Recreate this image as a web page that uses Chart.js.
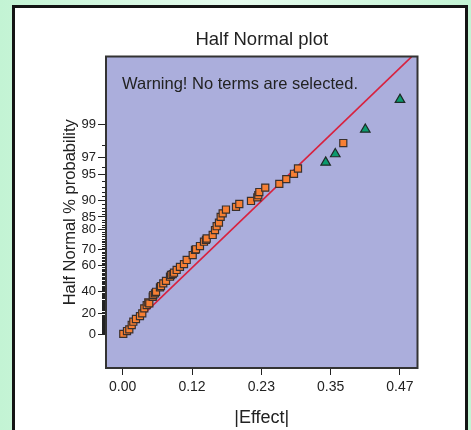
<!DOCTYPE html>
<html>
<head>
<meta charset="utf-8">
<script src="https://cdn.jsdelivr.net/npm/chart.js@4/dist/chart.umd.min.js"></script>
<style>
  html, body { margin: 0; padding: 0; }
  body {
    width: 471px; height: 430px; overflow: hidden; position: relative;
    background: linear-gradient(90deg, #c3f4d4 0%, #e6fbee 50%, #c3f4d4 100%);
  }
  .card {
    position: absolute; left: 12px; top: 5px; width: 450px; height: 440px;
    border: 3px solid #141414; background: #fff;
  }
  #plot { position: absolute; left: 0; top: 0; }
</style>
</head>
<body>
<div class="card"></div>
<canvas id="plot" width="471" height="430"></canvas>
<script>
// |Effect| and half-normal % probability
var termEffects = [0.0010, 0.0073, 0.0112, 0.0153, 0.0180, 0.0225, 0.0293, 0.0332, 0.0366, 0.0407,
  0.0434, 0.0451, 0.0509, 0.0519, 0.0548, 0.0565, 0.0632, 0.0649, 0.0688, 0.0734,
  0.0802, 0.0819, 0.0848, 0.0870, 0.0915, 0.0971, 0.1039, 0.1085, 0.1187, 0.1226,
  0.1243, 0.1310, 0.1378, 0.1412, 0.1424, 0.1526, 0.1565, 0.1593, 0.1632, 0.1661,
  0.1695, 0.1751, 0.1921, 0.1977, 0.2175, 0.2282, 0.2299, 0.2316, 0.2417, 0.2655,
  0.2773, 0.2904, 0.2972, 0.3740];
var termProbs = [0.4, 3.2, 4.9, 9.1, 12.3, 14.9, 17.7, 20.3, 25.0, 28.0,
  30.5, 29.6, 35.5, 37.0, 38.5, 39.8, 43.5, 44.6, 46.8, 48.8,
  52.0, 53.3, 54.0, 55.0, 57.0, 59.2, 61.1, 63.8, 66.9, 69.9,
  70.3, 72.1, 74.4, 75.3, 76.0, 77.7, 79.9, 81.5, 82.9, 85.0,
  86.2, 87.4, 88.2, 89.0, 89.8, 90.7, 91.2, 91.9, 92.8, 93.5,
  94.3, 95.1, 95.8, 98.1];

var errorEffects = [0.3441, 0.3604, 0.4113, 0.4701];
var errorProbs = [96.5, 97.3, 98.8, 99.6];

var lineEffects = [0, 0.49];
var lineProbs = [0, 99.934];

var yTickProbs = [0, 20, 40, 60, 70, 80, 85, 90, 95, 97, 99];
var xTickValues = [0, 0.1175, 0.235, 0.3525, 0.47];
var xTickLabels = ['0.00', '0.12', '0.23', '0.35', '0.47'];

// inverse normal cdf (Acklam)
function normInv(p) {
  var a = [-39.69683028665376, 220.9460984245205, -275.9285104469687, 138.3577518672690, -30.66479806614716, 2.506628277459239];
  var b = [-54.47609879822406, 161.5858368580409, -155.6989798598866, 66.80131188771972, -13.28068155288572];
  var c = [-0.007784894002430293, -0.3223964580411365, -2.400758277161838, -2.549732467179510, 4.374664141464968, 2.938163982698783];
  var d = [0.007784695709041462, 0.3224671290700398, 2.445134137142996, 3.754408661907416];
  var q, r;
  if (p < 0.02425) {
    q = Math.sqrt(-2 * Math.log(p));
    return (((((c[0]*q+c[1])*q+c[2])*q+c[3])*q+c[4])*q+c[5]) / ((((d[0]*q+d[1])*q+d[2])*q+d[3])*q+1);
  }
  if (p > 1 - 0.02425) {
    q = Math.sqrt(-2 * Math.log(1 - p));
    return -(((((c[0]*q+c[1])*q+c[2])*q+c[3])*q+c[4])*q+c[5]) / ((((d[0]*q+d[1])*q+d[2])*q+d[3])*q+1);
  }
  q = p - 0.5; r = q * q;
  return (((((a[0]*r+a[1])*r+a[2])*r+a[3])*r+a[4])*r+a[5])*q / (((((b[0]*r+b[1])*r+b[2])*r+b[3])*r+b[4])*r+1);
}
function toZ(pct) { return normInv(0.5 + pct / 200); }

function toPoints(xs, ps) {
  return xs.map(function(x, i) { return { x: x, y: toZ(ps[i]) }; });
}

var FONT = "'Liberation Sans', Arial, Helvetica, sans-serif";
var INK = '#222';
Chart.defaults.font.family = FONT;
Chart.defaults.color = INK;

var plotFrame = {
  id: 'plotFrame',
  beforeDatasetsDraw: function(chart) {
    var a = chart.chartArea, ctx = chart.ctx;
    ctx.save();
    ctx.fillStyle = '#abaedc';
    ctx.fillRect(a.left, a.top, a.right - a.left, a.bottom - a.top);
    ctx.restore();
  },
  afterDraw: function(chart) {
    var a = chart.chartArea, ctx = chart.ctx;
    var ys = chart.scales.y;
    ctx.save();
    // minor ticks at every whole percent
    ctx.strokeStyle = INK;
    ctx.lineWidth = 1;
    ctx.beginPath();
    for (var p = 1; p < 100; p++) {
      if (yTickProbs.indexOf(p) >= 0) continue;
      var py = Math.round(ys.getPixelForValue(toZ(p))) + 0.5;
      ctx.moveTo(a.left - 4, py);
      ctx.lineTo(a.left, py);
    }
    ctx.stroke();
    ctx.strokeStyle = '#333';
    ctx.lineWidth = 2;
    ctx.strokeRect(a.left, a.top, a.right - a.left, a.bottom - a.top);
    // note
    ctx.fillStyle = INK;
    ctx.font = '16.5px ' + FONT;
    ctx.textBaseline = 'alphabetic';
    ctx.textAlign = 'left';
    ctx.fillText('Warning! No terms are selected.', a.left + 16, a.top + 32.5);
    ctx.restore();
  }
};

new Chart(document.getElementById('plot'), {
  type: 'scatter',
  data: {
    datasets: [{
      label: 'Terms',
      data: toPoints(termEffects, termProbs),
      pointStyle: 'rect',
      pointRadius: 5,
      backgroundColor: '#f77f33',
      borderColor: '#3a302c',
      borderWidth: 1.2
    }, {
      label: 'Error',
      data: toPoints(errorEffects, errorProbs),
      pointStyle: 'triangle',
      pointRadius: 5.5,
      backgroundColor: '#0b9a6d',
      borderColor: '#1e2a26',
      borderWidth: 1.2
    }, {
      label: 'Fit',
      data: toPoints(lineEffects, lineProbs),
      showLine: true,
      pointRadius: 0,
      borderColor: '#d8223f',
      borderWidth: 1.6
    }]
  },
  options: {
    responsive: false,
    animation: false,
    events: [],
    layout: { padding: { left: 0, top: 29, right: 53.5, bottom: 0 } },
    plugins: {
      legend: { display: false },
      tooltip: { enabled: false },
      title: {
        display: true,
        fullSize: false,
        text: 'Half Normal plot',
        color: INK,
        font: { size: 18.5, weight: 'normal' },
        padding: { top: 0, bottom: 5.3 }
      }
    },
    scales: {
      x: {
        type: 'linear',
        min: -0.0283,
        max: 0.4998,
        afterBuildTicks: function(s) {
          s.ticks = xTickValues.map(function(v) { return { value: v }; });
        },
        afterFit: function(s) { s.height = 62; },
        ticks: {
          autoSkip: false,
          maxRotation: 0,
          padding: 3.5,
          color: INK,
          font: { size: 14 },
          callback: function(v, i) { return xTickLabels[i]; }
        },
        grid: { drawOnChartArea: false, tickLength: 7, color: INK },
        border: { display: false },
        title: {
          display: true,
          text: '|Effect|',
          color: INK,
          font: { size: 18 },
          padding: { top: 0, bottom: 1.2 }
        }
      },
      y: {
        type: 'linear',
        min: -0.413,
        max: 3.407,
        afterBuildTicks: function(s) {
          s.ticks = yTickProbs.map(function(p) { return { value: toZ(p) }; });
        },
        afterFit: function(s) { s.width = 106; },
        ticks: {
          autoSkip: false,
          padding: 2,
          color: INK,
          font: { size: 13 },
          callback: function(v, i) { return String(yTickProbs[i]); }
        },
        grid: { drawOnChartArea: false, tickLength: 8, color: INK },
        border: { display: false },
        title: {
          display: true,
          text: 'Half Normal % probability',
          color: INK,
          font: { size: 16.5 },
          padding: { top: 60.2, bottom: 0 }
        }
      }
    }
  },
  plugins: [plotFrame]
});
</script>
</body>
</html>
